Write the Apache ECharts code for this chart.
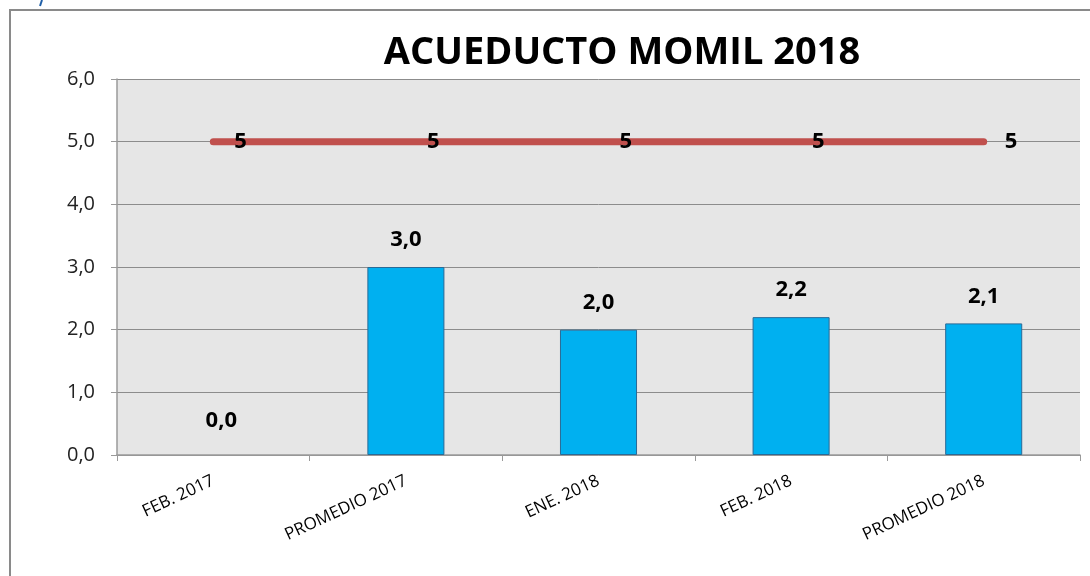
<!DOCTYPE html>
<html>
<head>
<meta charset="utf-8">
<script src="https://cdn.jsdelivr.net/npm/echarts@6/dist/echarts.min.js"></script>
<style>
html,body{margin:0;padding:0;background:#fff;}
#chart{width:1090px;height:576px;}
</style>
</head>
<body>
<div id="chart"></div>
<script>
const titleText = 'ACUEDUCTO MOMIL 2018';
const categories = ['FEB. 2017', 'PROMEDIO 2017', 'ENE. 2018', 'FEB. 2018', 'PROMEDIO 2018'];
const barValues = [0.0, 3.0, 2.0, 2.2, 2.1];
const targetValues = [5, 5, 5, 5, 5];
const yTicks = { min: 0, max: 6, interval: 1 };

const FONT = 'Open Sans';
const fmt = v => Number(v).toFixed(1).replace('.', ',');

const barData = barValues.map(v => (v === 0 ? {
  value: v,
  itemStyle: { borderWidth: 0, color: 'rgba(0,0,0,0)', borderColor: 'rgba(0,0,0,0)' },
  label: { distance: 23, offset: [8, 0] }
} : { value: v }));

const chart = echarts.init(document.getElementById('chart'), null, { renderer: 'canvas' });
chart.setOption({
  animation: false,
  backgroundColor: '#ffffff',
  title: {
    text: titleText,
    left: 617,
    top: 29,
    textAlign: 'center',
    textStyle: { fontFamily: FONT, fontSize: 38, fontWeight: 'bold', color: '#000' }
  },
  graphic: [
    { type: 'line', shape: { x1: 10, y1: 9, x2: 10, y2: 576 }, style: { stroke: '#8a8a8a', lineWidth: 2 }, silent: true },
    { type: 'line', shape: { x1: 9, y1: 10, x2: 1090, y2: 10 }, style: { stroke: '#8a8a8a', lineWidth: 2 }, silent: true },
    { type: 'line', shape: { x1: 42, y1: 0, x2: 40, y2: 6 }, style: { stroke: '#1f5fa8', lineWidth: 2 }, silent: true }
  ],
  grid: {
    left: 117, right: 10, top: 79, bottom: 121,
    show: true, backgroundColor: '#e6e6e6', borderWidth: 0
  },
  xAxis: {
    type: 'category',
    data: categories,
    boundaryGap: true,
    axisLine: { show: true, lineStyle: { color: '#9a9a9a', width: 1.5 } },
    axisTick: { show: true, alignWithLabel: false, length: 6, lineStyle: { color: '#9a9a9a' } },
    axisLabel: {
      rotate: 25, interval: 0, margin: 25,
      fontFamily: FONT, fontSize: 17, color: '#000'
    }
  },
  yAxis: {
    type: 'value',
    min: yTicks.min, max: yTicks.max, interval: yTicks.interval,
    axisLine: { show: true, lineStyle: { color: '#9a9a9a', width: 1.5 } },
    axisTick: { show: true, length: 6, lineStyle: { color: '#9a9a9a' } },
    axisLabel: { formatter: v => fmt(v), margin: 22, fontFamily: FONT, fontSize: 20, color: '#222' },
    splitLine: { show: true, lineStyle: { color: '#8c8c8c', width: 1 } }
  },
  series: [
    {
      type: 'bar',
      data: barData,
      barWidth: '40%',
      itemStyle: { color: '#00b0f0', borderColor: '#2a6a96', borderWidth: 1 },
      label: {
        show: true, position: 'top', distance: 16,
        formatter: p => fmt(p.value),
        fontFamily: FONT, fontSize: 22, fontWeight: 'bold', color: '#000'
      },
      z: 2
    },
    {
      type: 'line',
      data: targetValues,
      symbol: 'circle',
      symbolSize: 2,
      showSymbol: true,
      itemStyle: { color: 'rgba(0,0,0,0)', borderWidth: 0 },
      lineStyle: { color: '#c0504d', width: 7, cap: 'round' },
      label: {
        show: true, position: 'right', distance: 20,
        formatter: p => String(p.value),
        fontFamily: FONT, fontSize: 22, fontWeight: 'bold', color: '#000'
      },
      labelLayout: { hideOverlap: false },
      z: 3
    }
  ]
});
</script>
</body>
</html>
